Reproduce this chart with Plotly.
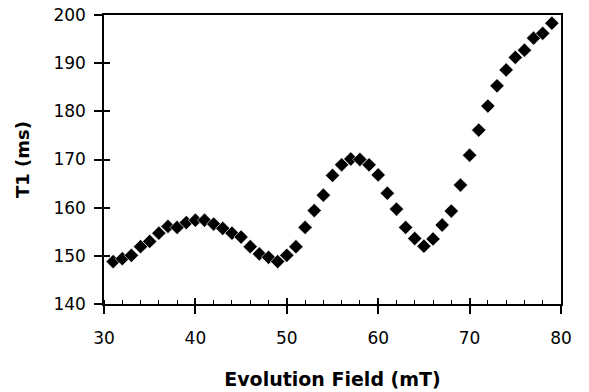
import plotly.graph_objects as go

field_mT = list(range(31, 80))
t1_ms = [148.8, 149.4, 150.1, 151.9, 153.0, 154.7, 156.1, 155.9, 156.9, 157.4,
         157.4, 156.6, 155.7, 154.7, 153.9, 151.9, 150.4, 149.7, 148.8, 150.1,
         151.9, 155.9, 159.4, 162.6, 166.7, 168.9, 170.1, 170.0, 168.9, 166.8,
         163.0, 159.7, 155.9, 153.6, 152.0, 153.5, 156.4, 159.3, 164.7, 170.9,
         176.1, 181.1, 185.3, 188.6, 191.2, 192.7, 195.2, 196.2, 198.3]

x_range = [30, 80]
y_range = [140, 200]
x_ticks = [30, 40, 50, 60, 70, 80]
y_ticks = [140, 150, 160, 170, 180, 190, 200]

FONT = "DejaVu Sans, Arial, sans-serif"

fig = go.Figure()
fig.add_trace(go.Scatter(
    x=field_mT, y=t1_ms, mode="markers",
    marker=dict(symbol="diamond", size=11, color="black",
                line=dict(color="white", width=0.6)),
    showlegend=False,
))
# helper trace for the overlaid axes that draw the inner half of crossing ticks
fig.add_trace(go.Scatter(x=[], y=[], xaxis="x2", yaxis="y2",
                         showlegend=False, hoverinfo="skip"))

fig.update_layout(
    width=589, height=392,
    margin=dict(l=104, r=28, t=15, b=88),
    paper_bgcolor="white", plot_bgcolor="white",
    font=dict(family=FONT, color="black", size=16),
    xaxis=dict(
        range=x_range, tickvals=x_ticks, ticks="outside", ticklen=8,
        tickwidth=1.5, tickcolor="black", showline=True, linewidth=1.5,
        linecolor="black", mirror=True, showgrid=False, zeroline=False,
        automargin=False, ticklabelstandoff=10, ticklabeloverflow="allow",
        tickfont=dict(size=17),
        minor=dict(dtick=2, ticks="inside", ticklen=4, tickwidth=1.2,
                   tickcolor="black", showgrid=False),
        title=dict(text="<b>Evolution Field (mT)</b>", font=dict(size=19),
                   standoff=26),
    ),
    yaxis=dict(
        range=y_range, tickvals=y_ticks, ticks="outside", ticklen=8,
        tickwidth=1.5, tickcolor="black", showline=True, linewidth=1.5,
        linecolor="black", mirror=True, showgrid=False, zeroline=False,
        automargin=False, ticklabelstandoff=5, ticklabeloverflow="allow",
        tickfont=dict(size=17),
        title=dict(text="<b>T1 (ms)</b>", font=dict(size=18), standoff=19),
    ),
    xaxis2=dict(
        overlaying="x", anchor="y2", range=x_range, tickvals=x_ticks,
        ticks="inside", ticklen=6, tickwidth=1.5, tickcolor="black",
        showticklabels=False, showline=False, showgrid=False, zeroline=False,
        automargin=False,
    ),
    yaxis2=dict(
        overlaying="y", anchor="x2", range=y_range, tickvals=y_ticks,
        ticks="inside", ticklen=6, tickwidth=1.5, tickcolor="black",
        showticklabels=False, showline=False, showgrid=False, zeroline=False,
        automargin=False,
    ),
)

fig.write_html(
    "out.html",
    config={"displayModeBar": False},
    post_script="document.body.style.margin='0';document.body.style.overflow='hidden';",
)
